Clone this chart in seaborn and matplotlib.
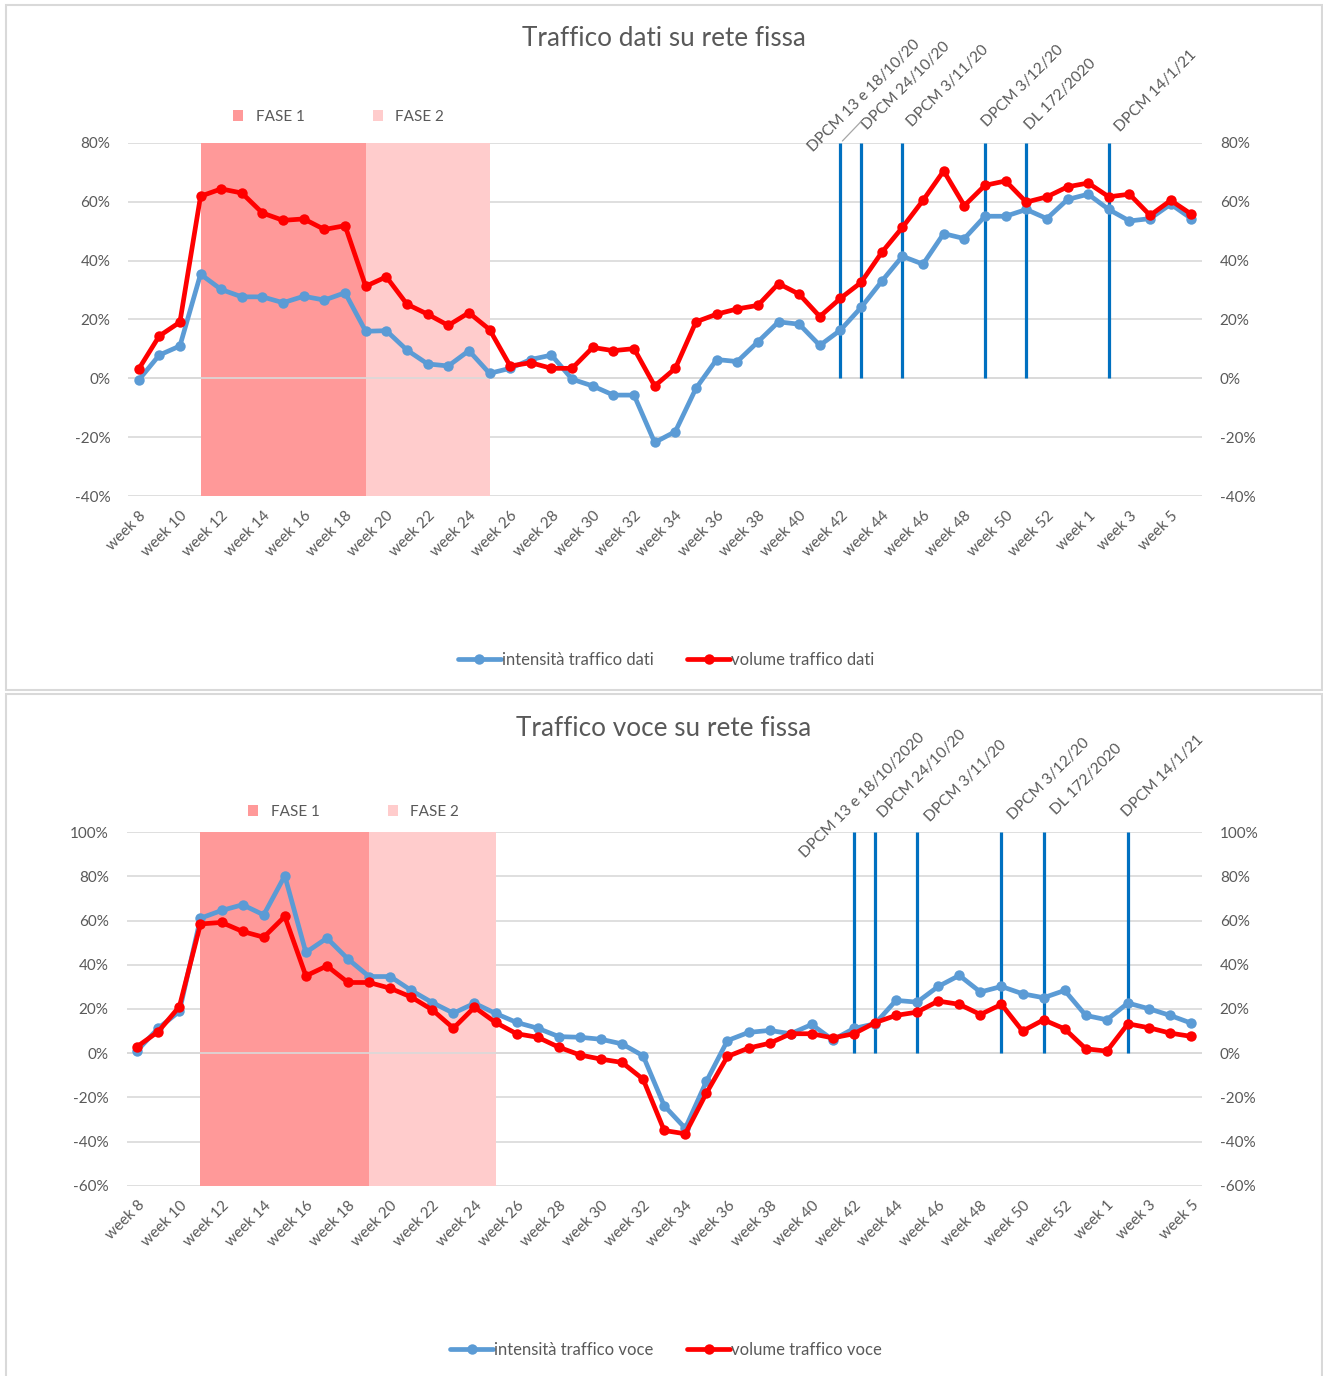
import matplotlib
matplotlib.use('Agg')
import matplotlib.pyplot as plt
from matplotlib.patches import Patch, Rectangle
from matplotlib.lines import Line2D
from matplotlib.ticker import PercentFormatter
import seaborn as sns
import pandas as pd

# categories
weeks_dati = ['week %d' % w for w in list(range(8, 54)) + list(range(1, 7))]
weeks_voce = ['week %d' % w for w in list(range(8, 54)) + list(range(1, 6))]

# data traffic (%)
intensita_dati = [-0.6, 7.9, 11.0, 35.4, 30.2, 27.7, 27.7, 25.7, 27.9, 26.6,
                  29.1, 16.0, 16.2, 9.6, 4.9, 4.2, 9.4, 1.7, 3.4, 6.4,
                  7.9, -0.3, -2.6, -5.7, -5.7, -21.8, -18.1, -3.4, 6.4, 5.7,
                  12.4, 19.2, 18.4, 11.2, 16.4, 24.1, 33.0, 41.5, 38.8, 49.2,
                  47.5, 55.1, 55.1, 57.4, 54.3, 60.8,
                  62.6, 57.4, 53.5, 54.3, 59.2, 54.3]
volume_dati = [3.1, 14.4, 19.1, 61.9, 64.4, 63.0, 56.2, 53.7, 54.2, 50.6,
               51.9, 31.3, 34.5, 25.2, 21.8, 18.0, 22.3, 16.6, 4.2, 5.3,
               3.4, 3.4, 10.5, 9.4, 10.1, -2.6, 3.4, 19.2, 21.8, 23.6,
               24.8, 32.2, 28.6, 21.0, 27.2, 32.6, 42.8, 51.3, 60.5, 70.5,
               58.7, 65.6, 67.1, 59.9, 61.7, 65.1,
               66.4, 61.7, 62.6, 55.4, 60.5, 55.8]

# voice traffic (%)
intensita_voce = [1.2, 11.3, 18.9, 61.1, 64.6, 67.2, 62.6, 80.3, 45.6, 52.1,
                  42.6, 34.7, 34.7, 28.4, 22.9, 18.1, 22.6, 18.0, 13.9, 11.3,
                  7.5, 7.2, 6.3, 4.2, -1.2, -23.8, -34.0, -12.8, 5.7, 9.4,
                  10.3, 8.8, 13.0, 6.0, 11.2, 13.3, 23.9, 23.1, 30.2, 35.2,
                  27.7, 30.2, 26.9, 25.1, 28.4, 17.1,
                  15.1, 22.7, 20.1, 17.1, 13.6]
volume_voce = [3.0, 9.8, 21.1, 58.5, 59.2, 55.1, 52.5, 61.9, 35.0, 39.5,
               32.0, 32.0, 29.4, 25.4, 19.6, 11.3, 20.8, 13.9, 8.8, 7.2,
               2.7, -0.8, -2.7, -4.2, -11.8, -35.0, -36.5, -18.1, -1.5, 2.3,
               4.5, 8.8, 8.8, 6.9, 8.8, 13.8, 17.1, 18.6, 23.6, 22.1,
               17.5, 22.1, 10.0, 15.1, 11.0, 2.0,
               0.9, 13.3, 11.5, 9.1, 7.6]

# phases and decrees
fase_names = ['FASE 1', 'FASE 2']
fase_weeks = [('week 11', 'week 19'), ('week 19', 'week 25')]
event_weeks = ['week 42', 'week 43', 'week 45', 'week 49', 'week 51', 'week 2']
events_dati = ['DPCM 13 e 18/10/20', 'DPCM 24/10/20', 'DPCM 3/11/20',
               'DPCM 3/12/20', 'DL 172/2020', 'DPCM 14/1/21']
events_voce = ['DPCM 13 e 18/10/2020', 'DPCM 24/10/20', 'DPCM 3/11/20',
               'DPCM 3/12/20', 'DL 172/2020', 'DPCM 14/1/21']

BLUE = '#5B9BD5'
RED = '#FF0000'
FASE_COLORS = ['#FF9999', '#FFCCCC']
EVENT_COLOR = '#0070C0'
GREY = '#595959'
GRID = '#D9D9D9'
PX = 0.72  # points per pixel at dpi 100

sns.set_theme(style='white')
plt.rcParams['font.family'] = ['Lato', 'DejaVu Sans']
plt.rcParams['axes.unicode_minus'] = False

fig = plt.figure(figsize=(13.23, 13.76), dpi=100)

# chart area frames
fig.add_artist(Rectangle((6 / 1323, 1 - 690 / 1376), 1316 / 1323, 685 / 1376,
                         transform=fig.transFigure, fill=False, edgecolor=GRID, lw=1.5))
fig.add_artist(Rectangle((6 / 1323, -0.01), 1316 / 1323, (1376 - 694) / 1376 + 0.01,
                         transform=fig.transFigure, fill=False, edgecolor=GRID, lw=1.5))


def draw_panel(ax, weeks, blue, red, names, ylim, event_labels, offsets, leader):
    n = len(weeks)
    df = pd.DataFrame({
        'pos': list(range(n)) * 2,
        'value': blue + red,
        'serie': [names[0]] * n + [names[1]] * n,
    })
    sns.lineplot(data=df, x='pos', y='value', hue='serie', hue_order=names,
                 palette=[BLUE, RED], marker='o', markersize=7.5, markeredgewidth=0,
                 linewidth=3.4, sort=False, legend=False, ax=ax, zorder=3)

    for (start, end), col in zip(fase_weeks, FASE_COLORS):
        ax.axvspan(weeks.index(start), weeks.index(end), color=col, lw=0, zorder=1)
    ax.axhline(0, color=GRID, lw=1.2, zorder=1.5)

    top = ylim[1]
    xs = [weeks.index(w) for w in event_weeks]
    ax.vlines(xs, 0, top, color=EVENT_COLOR, lw=2.3, zorder=2)
    for x, lab, (dx, dy) in zip(xs, event_labels, offsets):
        ax.annotate(lab, xy=(x, top), xytext=(dx * PX, dy * PX), textcoords='offset points',
                    rotation=45, rotation_mode='anchor', ha='left', va='baseline',
                    fontsize=11.2, color=GREY, annotation_clip=False)
    if leader:
        ax.annotate('', xy=(xs[0], top), xytext=(23 * PX, 24 * PX), textcoords='offset points',
                    arrowprops=dict(arrowstyle='-', color='#A6A6A6', lw=0.9),
                    annotation_clip=False)

    ax.set_xlim(-0.5, n - 0.5)
    ax.set_ylim(*ylim)
    ax.set_yticks(range(ylim[0], ylim[1] + 1, 20))
    ax.yaxis.set_major_formatter(PercentFormatter(100, decimals=0))
    ax.set_xticks(range(0, n, 2))
    ax.set_xticklabels(weeks[::2], rotation=45, ha='right', rotation_mode='anchor')
    ax.tick_params(axis='x', length=0, pad=9, labelsize=11, labelcolor=GREY)
    ax.tick_params(axis='y', length=0, pad=13, labelsize=11, labelcolor=GREY,
                   labelleft=True, labelright=True)
    ax.grid(axis='y', color=GRID, lw=1.2)
    ax.set_axisbelow(True)
    sns.despine(ax=ax, left=True, bottom=True)
    ax.set_xlabel('')
    ax.set_ylabel('')


def legends(fase_pos, line_pos, names):
    fase_handles = [Patch(facecolor=c, edgecolor='none') for c in FASE_COLORS]
    fig.legend(fase_handles, fase_names, loc='center left', bbox_to_anchor=fase_pos,
               ncol=2, frameon=False, handlelength=0.7, handleheight=0.7,
               handletextpad=0.8, columnspacing=4.45, fontsize=11, labelcolor=GREY)
    line_handles = [Line2D([], [], color=c, lw=3.4, marker='o', markersize=7.5,
                           markeredgewidth=0) for c in (BLUE, RED)]
    fig.legend(line_handles, names, loc='center', bbox_to_anchor=line_pos, ncol=2,
               frameon=False, numpoints=1, handlelength=2.6, handletextpad=0.05,
               columnspacing=2.0, fontsize=12, labelcolor=GREY)


# top panel: data
ax1 = fig.add_axes([128.3 / 1323, 1 - 496 / 1376, 1073.4 / 1323, 353 / 1376])
names_dati = ['intensità traffico dati', 'volume traffico dati']
draw_panel(ax1, weeks_dati, intensita_dati, volume_dati, names_dati, (-40, 80),
           events_dati, [(-27, -9), (6, 13), (10, 16), (2, 16), (4, 13), (11, 11)], True)
fig.text(664 / 1323, 1 - 38 / 1376, 'Traffico dati su rete fissa', ha='center', va='center',
         fontsize=18.8, color=GREY)
legends((219 / 1323, 1 - 117 / 1376), (666 / 1323, 1 - 660 / 1376), names_dati)

# bottom panel: voice
ax2 = fig.add_axes([126.7 / 1323, 1 - 1185.7 / 1376, 1075 / 1323, 353.4 / 1376])
names_voce = ['intensità traffico voce', 'volume traffico voce']
draw_panel(ax2, weeks_voce, intensita_voce, volume_voce, names_voce, (-60, 100),
           events_voce, [(-49, -26), (8, 14), (13, 10), (12, 12), (13, 17), (-1, 15)], False)
fig.text(664 / 1323, 1 - 728 / 1376, 'Traffico voce su rete fissa', ha='center', va='center',
         fontsize=18.8, color=GREY)
legends((234 / 1323, 1 - 812 / 1376), (666 / 1323, 1 - 1350 / 1376), names_voce)

fig.savefig('out.png', dpi=100)
